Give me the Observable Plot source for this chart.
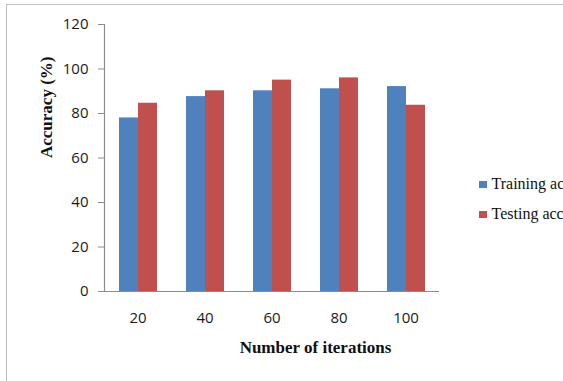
<!DOCTYPE html>
<html>
<head>
<meta charset="utf-8">
<script src="https://cdn.jsdelivr.net/npm/d3@7"></script>
<script src="https://cdn.jsdelivr.net/npm/@observablehq/plot@0.6"></script>
<style>
  html, body { margin: 0; padding: 0; background: #fff; overflow: hidden; }
  #wrap { position: relative; width: 563px; height: 381px; overflow: hidden; }
  #border { position: absolute; left: 6px; top: 4px; width: 700px; height: 500px;
            border-left: 1.5px solid #bdbdbd; border-top: 1.5px solid #bdbdbd; }
  #chart { position: absolute; left: 0; top: 0; }
  .legend { position: absolute; left: 479px; white-space: nowrap;
            font-family: "Liberation Serif", serif; font-size: 16px; color: #111; }
  .legend .sw { display: inline-block; width: 7.5px; height: 7.5px; margin-right: 5px; vertical-align: 1px; }
</style>
</head>
<body>
<div id="wrap">
  <div id="border"></div>
  <div id="chart"></div>
  <div id="legend"></div>
</div>
<script>
const iterations = ["20", "40", "60", "80", "100"];
const trainingAccuracy = [78, 87.6, 90.2, 91.1, 92.1];
const testingAccuracy = [84.6, 90.2, 95, 96, 83.7];
const seriesNames = ["Training accuracy", "Testing accuracy"];
const seriesColors = ["#4F81BD", "#C0504D"];
const yTicks = [0, 20, 40, 60, 80, 100, 120];

const data = iterations.flatMap((it, i) => [
  {iteration: it, series: seriesNames[0], value: trainingAccuracy[i]},
  {iteration: it, series: seriesNames[1], value: testingAccuracy[i]}
]);

const serif = "'Liberation Serif', 'Times New Roman', serif";

const chart = Plot.plot({
  width: 563,
  height: 381,
  marginLeft: 103,
  marginRight: 124,
  marginTop: 24,
  marginBottom: 90,
  style: {fontFamily: "'Open Sans', sans-serif", fontSize: "15px", color: "#1a1a1a", background: "transparent", overflow: "visible"},
  fx: {domain: iterations, padding: 0, label: null, axis: null},
  x: {domain: seriesNames, paddingInner: 0, paddingOuter: 0.75, axis: null},
  y: {domain: [0, 120], axis: null},
  color: {domain: seriesNames, range: seriesColors},
  marks: [
    Plot.barY(data, {fx: "iteration", x: "series", y: "value", fill: "series"}),
    Plot.ruleY([0], {stroke: "#8c8c8c", strokeWidth: 1.2}),
    Plot.frame({anchor: "left", stroke: "#8c8c8c", strokeWidth: 1.2, facetAnchor: "left"}),
    Plot.axisY({ticks: yTicks, tickSize: 6, tickPadding: 10, stroke: "#8c8c8c", fill: "#1a1a1a", label: null}),
    Plot.axisFx({anchor: "bottom", tickSize: 0, tickPadding: 21, fill: "#1a1a1a", label: null}),
    Plot.text([{fx: "20", t: "Accuracy (%)"}], {fx: "fx", text: "t", frameAnchor: "left", rotate: -90, dx: -58,
      fontFamily: serif, fontWeight: "bold", fontSize: 17, fill: "#111"}),
    Plot.text([{fx: "60", t: "Number of iterations"}], {fx: "fx", text: "t", frameAnchor: "bottom", dy: 61, dx: 43.5,
      fontFamily: serif, fontWeight: "bold", fontSize: 17, fill: "#111"})
  ]
});
document.getElementById("chart").appendChild(chart);

const legend = document.getElementById("legend");
seriesNames.forEach((name, i) => {
  const row = document.createElement("div");
  row.className = "legend";
  row.style.top = (175 + i * 30) + "px";
  const sw = document.createElement("span");
  sw.className = "sw";
  sw.style.background = seriesColors[i];
  row.appendChild(sw);
  row.appendChild(document.createTextNode(name));
  legend.appendChild(row);
});
</script>
</body>
</html>
